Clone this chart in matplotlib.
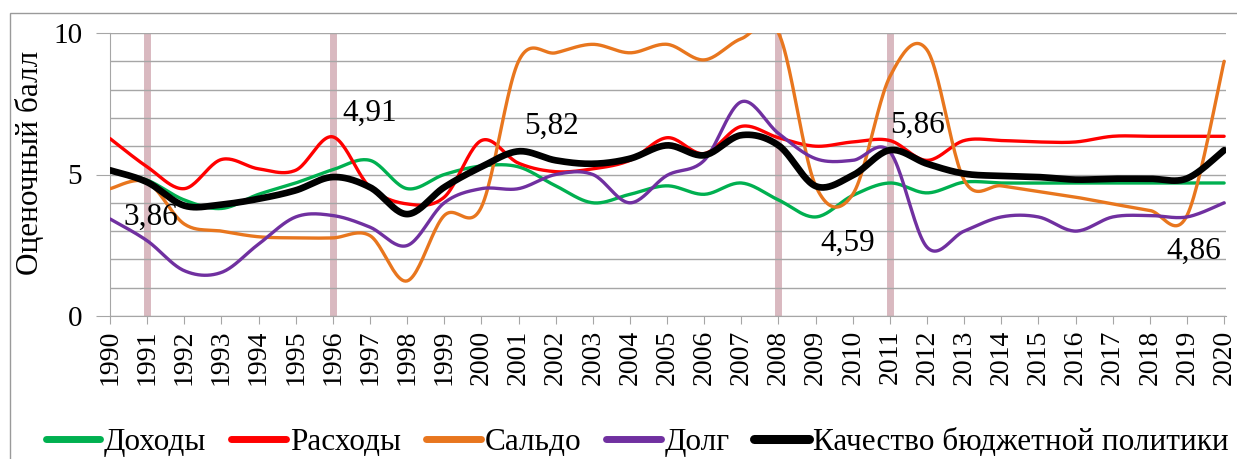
import numpy as np
import matplotlib
matplotlib.use("Agg")
import matplotlib.pyplot as plt
from matplotlib.lines import Line2D
from matplotlib.patches import Rectangle

plt.rcParams["font.family"] = ["Liberation Serif", "DejaVu Serif"]

# =================================================
# Data (scores)
# =================================================
years = list(range(1990, 2021))

income = [5.1, 4.8, 4.1, 3.8, 4.3, 4.7, 5.17, 5.5, 4.5, 5.0, 5.3,
          5.27, 4.6, 4.0, 4.3, 4.6, 4.3, 4.7, 4.1, 3.5, 4.26,
          4.7, 4.35, 4.73, 4.7, 4.7, 4.7, 4.7, 4.7, 4.7, 4.7]

spending = [6.27, 5.27, 4.5, 5.53, 5.2, 5.15, 6.33, 4.55, 3.96, 4.2, 6.2,
            5.4, 5.1, 5.2, 5.5, 6.3, 5.74, 6.7, 6.3, 6.0, 6.15,
            6.2, 5.5, 6.2, 6.2, 6.15, 6.15, 6.35, 6.35, 6.35, 6.35]

balance = [4.5, 4.73, 3.25, 3.0, 2.8, 2.76, 2.76, 2.84, 1.24, 3.55, 3.85,
           9.0, 9.3, 9.6, 9.3, 9.6, 9.05, 9.8, 10.0, 4.6, 4.3,
           8.46, 9.4, 4.8, 4.6, 4.4, 4.2, 3.96, 3.73, 3.55, 9.0]

debt = [3.43, 2.66, 1.6, 1.54, 2.54, 3.5, 3.55, 3.14, 2.49, 4.0, 4.5,
        4.5, 5.0, 5.0, 4.0, 4.97, 5.5, 7.57, 6.45, 5.56, 5.5,
        5.8, 2.43, 3.0, 3.5, 3.5, 3.0, 3.5, 3.55, 3.5, 4.0]

quality = [5.15, 4.73, 3.9, 3.94, 4.14, 4.44, 4.91, 4.55, 3.6, 4.55, 5.27,
           5.82, 5.5, 5.38, 5.56, 6.03, 5.68, 6.39, 6.03, 4.59, 4.97,
           5.86, 5.38, 5.03, 4.95, 4.91, 4.82, 4.85, 4.85, 4.86, 5.86]

crisis_years = [1991, 1996, 2008, 2011]

label_text = ["3,86", "4,91", "5,82", "4,59", "5,86", "4,86"]
label_x = [1991.1, 1996.98, 2001.89, 2009.86, 2011.73, 2019.19]
label_y = [3.5, 7.17, 6.71, 2.58, 6.75, 2.3]

series_names = ["Доходы", "Расходы", "Сальдо", "Долг",
                "Качество бюджетной политики"]
series_colors = ["#00b050", "#ff0000", "#e8761e", "#7030a0", "#000000"]


def smooth(x, y, n=24):
    # Excel-like smoothed line (Catmull-Rom bezier through the points)
    x = np.asarray(x, float)
    y = np.asarray(y, float)
    pts = np.column_stack([x, y])
    ext = np.vstack([pts[0], pts, pts[-1]])
    out = []
    t = np.linspace(0, 1, n, endpoint=False)[:, None]
    for i in range(1, len(ext) - 2):
        p0, p1, p2, p3 = ext[i - 1], ext[i], ext[i + 1], ext[i + 2]
        c1 = p1 + (p2 - p0) / 6
        c2 = p2 - (p3 - p1) / 6
        seg = ((1 - t) ** 3) * p1 + 3 * ((1 - t) ** 2) * t * c1 \
            + 3 * (1 - t) * t ** 2 * c2 + t ** 3 * p2
        out.append(seg)
    out.append(pts[-1:])
    out = np.vstack(out)
    return out[:, 0], out[:, 1]


fig = plt.figure(figsize=(12.37, 4.59), dpi=100)
ax = fig.add_axes([110 / 1237, 1 - 316 / 459, 1116 / 1237, 283 / 459])

# outer frame of the picture (right and bottom edges fall outside)
fig.patches.append(Rectangle((10 / 1237, -0.05), 1.1, 1 - 13 / 459 + 0.05,
                             transform=fig.transFigure, fill=False,
                             edgecolor="#9a9a9a", lw=1.0))

for yr in crisis_years:
    ax.axvline(yr, color="#d9b9c0", lw=5, zorder=1)

all_series = [income, spending, balance, debt, quality]
widths = [2.4, 2.4, 2.4, 2.4, 4.8]
for vals, col, w in zip(all_series, series_colors, widths):
    sx, sy = smooth(years, vals)
    ax.plot(sx, sy, color=col, lw=w, solid_capstyle="round", zorder=3)

for txt, lx, ly in zip(label_text, label_x, label_y):
    ax.text(lx, ly, txt, fontsize=22.5, ha="center", va="center", zorder=4)

ax.set_xlim(1990, 2020.05)
ax.set_ylim(0, 10)
ax.set_xticks(years)
ax.set_xticklabels([str(y) for y in years], rotation=90, fontsize=20)
ax.set_yticks([0, 5, 10])
ax.set_yticklabels(["0", "5", "10"], fontsize=21)
ax.set_yticks(range(0, 11), minor=True)
ax.grid(axis="y", which="both", color="#a6a6a6", lw=1.0, zorder=0)
ax.tick_params(axis="y", which="major", length=10, color="#a6a6a6", pad=10)
ax.tick_params(axis="y", which="minor", length=0)
ax.tick_params(axis="x", length=6, color="#a6a6a6", pad=4)
ax.set_ylabel("Оценочный балл", fontsize=22.5)
ax.yaxis.set_label_coords(-0.058, 0.54)
for side in ["top", "right"]:
    ax.spines[side].set_visible(False)
for side in ["left", "bottom"]:
    ax.spines[side].set_color("#a6a6a6")

handles = [Line2D([0], [0], color=c, lw=(5 if i < 4 else 6.5), solid_capstyle="round")
           for i, c in enumerate(series_colors)]
fig.legend(handles, series_names, loc="center", bbox_to_anchor=(0.515, 0.037),
           ncol=5, frameon=False, fontsize=22.5, handlelength=1.75,
           handletextpad=0.12, columnspacing=0.8, borderaxespad=0)

fig.savefig("out.png", dpi=100)
